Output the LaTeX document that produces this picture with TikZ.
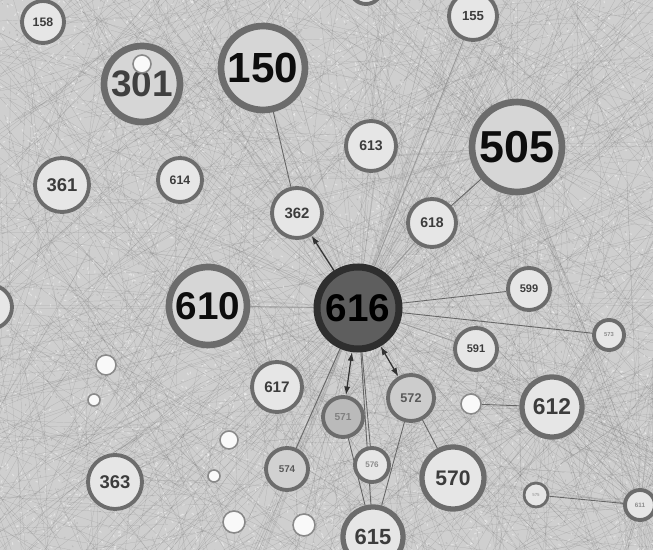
\documentclass[tikz,border=0pt]{standalone}
\usepackage{fontspec}
\setmainfont{Liberation Sans}
\usetikzlibrary{arrows.meta}

\pgfdeclarelayer{bg}
\pgfdeclarelayer{edges}
\pgfsetlayers{bg,edges,main}

\definecolor{paper}{HTML}{CFCFCF}
\definecolor{ring}{HTML}{6C6C6C}
\definecolor{nodefill}{HTML}{E6E6E6}
\definecolor{bigfill}{HTML}{D6D6D6}
\definecolor{hubfill}{HTML}{5E5E5E}
\definecolor{hubring}{HTML}{2E2E2E}
\definecolor{labelgray}{HTML}{3C3C3C}

\begin{document}
\begin{tikzpicture}[
  x=0.02cm, y=-0.02cm,
  vtx/.style={
    circle,
    draw=ring,
    line width=2.2pt,
    fill=nodefill,
    inner sep=0pt,
    text=labelgray
  },
  bigvtx/.style={vtx, line width=3.8pt, fill=bigfill, text=black!95},
  hub/.style={vtx, line width=4pt, draw=hubring, fill=hubfill, text=black},
  dot/.style={circle, draw=ring!80, line width=0.9pt, fill=white!95!gray, inner sep=0pt},
  sz/.style={minimum size=0.4mm*#1},
  fs/.style={font=\bfseries\fontsize{#1}{#1}\selectfont},
  hair/.style={line width=0.12pt, draw=black!60, opacity=0.3},
  speck/.style={line width=0.6pt, draw=white, opacity=0.4},
  grain/.style={line width=0.5pt, draw=black!50, opacity=0.25},
  edge/.style={line width=0.5pt, draw=black!60},
  arr/.style={line width=0.7pt, draw=black!80, -{Latex[length=5pt,width=3.5pt]}},
  darr/.style={line width=0.7pt, draw=black!80, {Latex[length=5pt,width=3.5pt]}-{Latex[length=5pt,width=3.5pt]}}
]
  \useasboundingbox (0,0) rectangle (653,550);

  % vertices
  \node[vtx, sz=21, fs=7pt]        (n158) at (43,22)   {158};
  \node[vtx, sz=24, fs=7.5pt]      (n155) at (473,16)  {155};
  \node[vtx, sz=16]                (ntop) at (366,-12) {};
  \node[bigvtx, sz=38, fs=21pt, text=black!75] (n301) at (142,84) {301};
  \node[bigvtx, sz=42, fs=24pt]    (n150) at (263,68)  {150};
  \node[vtx, sz=25, fs=8pt]        (n613) at (371,146) {613};
  \node[bigvtx, sz=45, fs=25.5pt]  (n505) at (517,147) {505};
  \node[vtx, sz=27, fs=10.5pt]     (n361) at (62,185)  {361};
  \node[vtx, sz=22, fs=7pt]        (n614) at (180,180) {614};
  \node[vtx, sz=25, fs=8.5pt]      (n362) at (297,213) {362};
  \node[vtx, sz=24, fs=8pt]        (n618) at (432,223) {618};
  \node[hub, sz=41, fs=22pt]       (n616) at (358,308) {616};
  \node[bigvtx, sz=39, fs=22pt]    (n610) at (208,306) {610};
  \node[vtx, sz=22]                (nleft) at (-10,307) {};
  \node[vtx, sz=21, fs=6.3pt]      (n599) at (529,289) {599};
  \node[vtx, sz=15, fs=3.3pt, text=black!45] (n573) at (609,335) {573};
  \node[vtx, sz=21, fs=6.3pt]      (n591) at (476,349) {591};
  \node[vtx, sz=25, fs=8.7pt]      (n617) at (277,387) {617};
  \node[vtx, sz=23, fs=7.2pt, fill=black!20, text=black!65] (n572) at (411,398) {572};
  \node[vtx, sz=20, fs=5.8pt, fill=black!27, text=black!50] (n571) at (343,417) {571};
  \node[vtx, sz=30, line width=3pt, fs=13pt] (n612) at (552,407) {612};
  \node[vtx, sz=21, fs=5.6pt, fill=black!18, text=black!65] (n574) at (287,469) {574};
  \node[vtx, sz=17, fs=4.6pt, text=black!45] (n576) at (372,465) {576};
  \node[vtx, sz=31, line width=3pt, fs=12pt] (n570) at (453,478) {570};
  \node[vtx, sz=27, fs=10.5pt]     (n363) at (115,482) {363};
  \node[vtx, sz=12, line width=1.6pt, fs=2.5pt, text=black!35] (n575) at (536,495) {575};
  \node[vtx, sz=15, fs=3.6pt, text=black!45] (n611) at (640,505) {611};
  \node[vtx, sz=30, line width=3pt, fs=12.5pt] (n615) at (373,537) {615};

  % small unlabelled vertices
  \node[dot, sz=9]  (d301) at (142,64)  {};
  \node[dot, sz=10] (d1)   at (106,365) {};
  \node[dot, sz=6]  (d2)   at (94,400)  {};
  \node[dot, sz=9]  (d3)   at (229,440) {};
  \node[dot, sz=6]  (d4)   at (214,476) {};
  \node[dot, sz=11] (d5)   at (234,522) {};
  \node[dot, sz=11] (d6)   at (304,525) {};
  \node[dot, sz=10] (d7)   at (471,404) {};

  % background mesh
  \begin{pgfonlayer}{bg}
    \fill[paper] (-40,-40) rectangle (693,590);
    \pgfmathsetseed{616}
    \foreach \k in {1,...,1600}{
      \pgfmathsetmacro{\xa}{rnd*730-40}
      \pgfmathsetmacro{\ya}{rnd*630-40}
      \pgfmathsetmacro{\xb}{\xa+(rnd-0.5)*420}
      \pgfmathsetmacro{\yb}{\ya+(rnd-0.5)*420}
      \draw[hair] (\xa,\ya) -- (\xb,\yb);
    }
    \foreach \k in {1,...,3500}{
      \pgfmathsetmacro{\xa}{rnd*660}
      \pgfmathsetmacro{\ya}{rnd*560}
      \draw[speck] (\xa,\ya) -- ++(rnd*360:2.5);
    }
    \foreach \k in {1,...,1500}{
      \pgfmathsetmacro{\xa}{rnd*660}
      \pgfmathsetmacro{\ya}{rnd*560}
      \draw[grain] (\xa,\ya) -- ++(rnd*360:2);
    }
    \foreach \k in {1,...,140}{
      \draw[hair] (n616.center) -- ++(rnd*360:300+rnd*200);
    }
    \foreach \k in {1,...,60}{
      \draw[hair] (n505.center) -- ++(rnd*360:250+rnd*200);
      \draw[hair] (n612.center) -- ++(rnd*360:200+rnd*200);
      \draw[hair] (n611.center) -- ++(rnd*360:150+rnd*200);
    }
  \end{pgfonlayer}

  % visible links
  \begin{pgfonlayer}{edges}
    \draw[edge] (n150) -- (n362);
    \draw[edge] (n505) -- (n618);
    \draw[edge] (n616) -- (n599);
    \draw[edge] (n616) -- (n573);
    \draw[edge] (n616) -- (n574);
    \draw[edge] (n616) -- (n576);
    \draw[edge] (n616) -- (n615);
    \draw[edge, draw=black!40] (n616) -- (n155);
    \draw[edge, draw=black!40] (n616) -- (n591);
    \draw[edge, draw=black!40] (n616) -- (n618);
    \draw[edge, draw=black!40] (n616) -- (n610);
    \draw[edge] (n572) -- (n570);
    \draw[edge] (n572) -- (n615);
    \draw[edge] (n571) -- (n615);
    \draw[edge] (n612) -- (d7);
    \draw[edge] (n575) -- (n611);
    \draw[arr]  (n616) -- (n362);
    \draw[darr] (n616) -- (n571);
    \draw[darr] (n616) -- (n572);
  \end{pgfonlayer}
\end{tikzpicture}
\end{document}
